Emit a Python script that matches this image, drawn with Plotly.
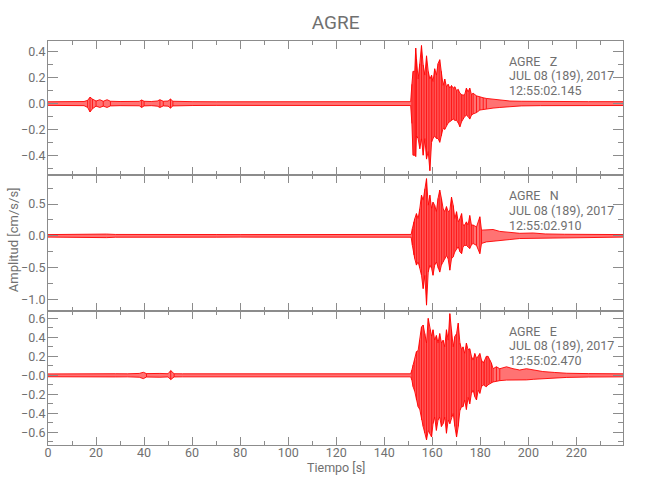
import plotly.graph_objects as go

# ---------------- data ----------------
# Time samples [s] and upper / lower envelope of each component [cm/s/s]
T_Z = [0, 5, 10, 15, 16.5, 17.5, 18.5, 20, 21.6, 23, 24.6, 26, 30, 35, 38, 39, 40, 43, 45.5, 46.6,
       48, 50, 51, 52, 55, 60, 70, 80, 90, 100, 110, 120, 130, 140, 145, 151.0,
       151.5, 152.0, 152.7, 153.1, 153.4, 154.1, 154.8, 155.5, 156.2, 156.9,
       157.6, 158.3, 159.0, 159.7, 160.3, 161.0, 161.7, 162.4, 163.1, 163.8,
       164.5, 165.2, 165.9, 166.6, 167.3, 168.0, 168.7, 169.4, 170.1, 170.8,
       171.5, 172.2, 172.8, 173.5, 174.2, 174.9, 175.6, 176.3, 177.0, 178.4,
       179.8, 181.2, 182.5, 185.3, 188.1, 192.3, 197, 205, 215, 225, 239.4]
HI_Z = [.014, .015, .014, .016, .025, .05, .035, .02, .03, .018, .03, .018, .016, .015, .017, .028, .018, .016, .02, .03,
        .018, .02, .035, .018, .015, .015, .014, .014, .015, .014, .015, .014, .014, .015, .014, .015,
        0.15, 0.25, 0.25, 0.43, 0.35, 0.19, 0.31, 0.45, 0.30, 0.22,
        0.37, 0.25, 0.19, 0.22, 0.17, 0.27, 0.22, 0.31, 0.34, 0.25,
        0.14, 0.19, 0.13, 0.15, 0.12, 0.14, 0.12, 0.13, 0.10, 0.11,
        0.08, 0.07, 0.065, 0.07, 0.12, 0.09, 0.12, 0.07, 0.08, 0.06,
        0.05, 0.045, 0.04, 0.035, 0.025, 0.02, 0.018, 0.016, 0.015, 0.015, 0.015]
LO_Z = [-.014, -.015, -.014, -.016, -.03, -.065, -.04, -.02, -.03, -.02, -.03, -.018, -.016, -.015, -.017, -.03, -.018, -.016, -.02, -.03,
        -.018, -.02, -.035, -.018, -.015, -.015, -.014, -.014, -.015, -.014, -.015, -.014, -.014, -.015, -.014, -.015,
        -0.155, -0.40, -0.40, -0.41, -0.25, -0.27, -0.35, -0.27, -0.40, -0.27,
        -0.43, -0.37, -0.52, -0.30, -0.27, -0.25, -0.27, -0.27, -0.30, -0.25,
        -0.19, -0.20, -0.17, -0.15, -0.14, -0.13, -0.12, -0.13, -0.13, -0.15,
        -0.18, -0.14, -0.12, -0.10, -0.09, -0.10, -0.12, -0.09, -0.08, -0.07,
        -0.05, -0.045, -0.04, -0.035, -0.03, -0.022, -0.018, -0.016, -0.015, -0.015, -0.015]

T_N = [0, 5, 10, 15, 17.5, 20, 24.4, 28, 35, 39, 43, 50, 60, 70, 80, 90, 100, 110, 120, 130, 140, 151.2,
       151.7, 152.3, 152.7, 153.4, 154.1, 154.8, 155.5, 156.2, 156.9, 157.6,
       158.3, 159.0, 159.7, 160.3, 161.0, 161.7, 162.4, 163.1, 163.8, 164.5,
       165.2, 165.9, 166.6, 167.3, 168.0, 168.7, 169.4, 170.1, 170.8, 171.5,
       172.2, 172.8, 173.5, 174.2, 174.9, 175.6, 176.3, 177.0, 178.4, 179.8,
       180.5, 182.5, 185.3, 188.1, 192.3, 196.4, 202.0, 207, 215, 225, 239.4]
HI_N = [.02, .022, .02, .022, .03, .022, .028, .022, .02, .028, .022, .02, .02, .021, .02, .02, .022, .02, .02, .021, .02, .022,
        0.115, 0.22, 0.27, 0.35, 0.27, 0.43, 0.64, 0.56, 0.74, 0.90,
        0.48, 0.64, 0.43, 0.53, 0.48, 0.38, 0.59, 0.72, 0.59, 0.43,
        0.38, 0.46, 0.38, 0.40, 0.61, 0.48, 0.27, 0.38, 0.22, 0.27,
        0.35, 0.17, 0.17, 0.22, 0.17, 0.32, 0.17, 0.17, 0.14, 0.30,
        0.09, 0.09, 0.10, 0.07, 0.055, 0.04, 0.045, 0.03, 0.025, 0.022, 0.02]
LO_N = [-.02, -.022, -.02, -.022, -.03, -.022, -.028, -.022, -.02, -.028, -.022, -.02, -.02, -.021, -.02, -.02, -.022, -.02, -.02, -.021, -.02, -.022,
        -0.15, -0.30, -0.36, -0.46, -0.41, -0.51, -0.62, -0.83, -0.62, -1.09,
        -0.57, -0.46, -0.51, -0.62, -0.46, -0.41, -0.51, -0.57, -0.46, -0.41,
        -0.36, -0.31, -0.36, -0.54, -0.36, -0.33, -0.25, -0.20, -0.17, -0.25,
        -0.28, -0.17, -0.15, -0.15, -0.17, -0.20, -0.14, -0.12, -0.15, -0.28,
        -0.12, -0.095, -0.085, -0.07, -0.058, -0.042, -0.04, -0.03, -0.025, -0.022, -0.02]

T_E = [0, 5, 10, 15, 17.5, 20, 24.5, 28, 33, 38, 39.7, 41, 46.6, 50, 51.1, 52.5, 56, 60, 70, 80, 90, 100, 110, 120, 130, 140, 151.0,
       151.5, 152.0, 152.7, 153.4, 154.1, 154.8, 155.5, 156.2, 156.9, 157.6,
       158.3, 159.0, 159.7, 160.3, 161.0, 161.7, 162.4, 163.1, 163.8, 164.5,
       165.2, 165.9, 166.6, 167.3, 168.0, 168.7, 169.4, 170.1, 170.8, 171.5,
       172.2, 172.8, 173.5, 174.2, 174.9, 175.6, 176.3, 177.0, 177.7, 178.4,
       179.1, 179.8, 180.5, 181.2, 181.8, 182.5, 183.2, 183.9, 184.6, 185.3,
       186.7, 188.1, 190.9, 193.6, 196.4, 199.2, 202.0, 206, 211, 216, 225, 239.4]
HI_E = [.015, .016, .015, .018, .022, .02, .022, .017, .016, .02, .032, .018, .02, .017, .05, .017, .016, .016, .015, .016, .015, .016, .015, .016, .015, .016, .016,
        0.056, 0.11, 0.16, 0.25, 0.26, 0.37, 0.51, 0.53, 0.44, 0.34,
        0.60, 0.48, 0.41, 0.48, 0.37, 0.42, 0.34, 0.44, 0.34, 0.37,
        0.30, 0.48, 0.37, 0.65, 0.48, 0.30, 0.41, 0.44, 0.55, 0.34,
        0.27, 0.30, 0.23, 0.34, 0.27, 0.28, 0.20, 0.16, 0.23, 0.18,
        0.20, 0.23, 0.16, 0.13, 0.16, 0.20, 0.20, 0.16, 0.13, 0.07,
        0.09, 0.07, 0.09, 0.07, 0.056, 0.07, 0.056, 0.04, 0.03, 0.022, 0.018, 0.016]
LO_E = [-.015, -.016, -.015, -.018, -.022, -.02, -.022, -.017, -.016, -.02, -.035, -.018, -.02, -.017, -.045, -.017, -.016, -.016, -.015, -.016, -.015, -.016, -.015, -.016, -.015, -.016, -.016,
        -0.05, -0.12, -0.17, -0.26, -0.33, -0.36, -0.47, -0.54, -0.61, -0.68,
        -0.58, -0.61, -0.65, -0.51, -0.44, -0.58, -0.47, -0.44, -0.54, -0.51,
        -0.44, -0.61, -0.47, -0.51, -0.44, -0.40, -0.54, -0.65, -0.54, -0.37,
        -0.33, -0.33, -0.26, -0.36, -0.23, -0.30, -0.19, -0.155, -0.225, -0.26,
        -0.155, -0.19, -0.12, -0.10, -0.11, -0.12, -0.10, -0.085, -0.08, -0.07,
        -0.06, -0.056, -0.05, -0.05, -0.05, -0.048, -0.042, -0.035, -0.028, -0.022, -0.018, -0.016]

STATION = "AGRE"
COMPONENTS = ["Z", "N", "E"]
DATE_TEXT = "JUL 08 (189), 2017"
START_TIMES = ["12:55:02.145", "12:55:02.910", "12:55:02.470"]

X_TICKS = list(range(0, 240, 20))
Y_TICKS_Z = [-0.4, -0.2, 0.0, 0.2, 0.4]
Y_TICKS_N = [-1.0, -0.5, 0.0, 0.5]
Y_TICKS_E = [-0.6, -0.4, -0.2, 0.0, 0.2, 0.4, 0.6]
Y_LABELS_E = ["\u22120.6", "\u22120.4", "\u22120.2", "\u22120.0", "0.2", "0.4", "0.6"]

# ---------------- styling ----------------
FONT = "Roboto, Liberation Sans, sans-serif"
TXT = "#707070"
AX = "#8c8c8c"
RED = "red"

L, R, TOP, BOT = 48, 623.3, 40.7, 445.0
PW, PH = R - L, BOT - TOP

series = [(T_Z, HI_Z, LO_Z), (T_N, HI_N, LO_N), (T_E, HI_E, LO_E)]
domains = [[0.6678, 1.0], [0.3322, 0.6678], [0.0, 0.3322]]
yranges = [[-0.555, 0.485], [-1.179, 0.954], [-0.734, 0.68]]
yminor = [0.1, 0.25, 0.1]

fig = go.Figure()
for i, (t, hi, lo) in enumerate(series):
    xa = "x" if i == 0 else f"x{i+1}"
    ya = "y" if i == 0 else f"y{i+1}"
    fig.add_trace(go.Scatter(x=t, y=hi, mode="lines", line=dict(color=RED, width=0.9),
                             xaxis=xa, yaxis=ya, hoverinfo="skip", showlegend=False))
    fig.add_trace(go.Scatter(x=t, y=lo, mode="lines", line=dict(color=RED, width=0.9),
                             fill="tonexty", fillcolor="rgba(255,0,0,0.55)",
                             xaxis=xa, yaxis=ya, hoverinfo="skip", showlegend=False))
    # vertical strokes at the densely read envelope samples (oscillation look)
    vx, vy = [], []
    for k in range(1, len(t)):
        if t[k] - t[k - 1] <= 1.5:
            vx += [t[k], t[k], None]
            vy += [hi[k], lo[k], None]
    fig.add_trace(go.Scatter(x=vx, y=vy, mode="lines", line=dict(color=RED, width=0.8),
                             xaxis=xa, yaxis=ya, hoverinfo="skip", showlegend=False,
                             connectgaps=False))

common_x = dict(range=[0, 239.4], tickmode="array", tickvals=X_TICKS, ticks="inside",
                ticklen=8, tickcolor=AX, tickwidth=1, showline=True, linecolor=AX, linewidth=1,
                mirror="allticks", showgrid=False, zeroline=False, automargin=False,
                ticklabelstandoff=-4,
                minor=dict(ticks="inside", ticklen=4, dtick=10, tickcolor=AX, showgrid=False),
                tickfont=dict(family=FONT, size=12.5, color=TXT))
for i in range(3):
    key = "xaxis" if i == 0 else f"xaxis{i+1}"
    ya = "y" if i == 0 else f"y{i+1}"
    d = dict(common_x, anchor=ya, showticklabels=(i == 2))
    if i > 0:
        d["matches"] = "x"
    fig.layout[key] = d

ytv = [Y_TICKS_Z, Y_TICKS_N, Y_TICKS_E]
for i in range(3):
    key = "yaxis" if i == 0 else f"yaxis{i+1}"
    xa = "x" if i == 0 else f"x{i+1}"
    d = dict(domain=domains[i], range=yranges[i], anchor=xa, tickmode="array", tickvals=ytv[i],
             ticks="inside", ticklen=10, tickcolor=AX, showline=True, linecolor=AX, linewidth=1,
             mirror="allticks", showgrid=False, zeroline=False, automargin=False,
             ticklabelstandoff=-1,
             minor=dict(ticks="inside", ticklen=5, dtick=yminor[i], tickcolor=AX, showgrid=False),
             tickfont=dict(family=FONT, size=12.5, color=TXT), tickformat=".1f")
    if i == 2:
        d["ticktext"] = Y_LABELS_E
    fig.layout[key] = d

# component annotations
ann_y = [[61, 75.5, 90], [195, 210, 225], [331, 345.5, 360]]
for i in range(3):
    lines = [STATION + "\u00a0\u00a0\u00a0" + COMPONENTS[i], DATE_TEXT, START_TIMES[i]]
    for j, txt in enumerate(lines):
        fig.add_annotation(x=(507.0 - L) / PW, y=(BOT - ann_y[i][j]) / PH,
                           xref="paper", yref="paper", text=txt, showarrow=False,
                           xanchor="left", yanchor="middle",
                           font=dict(family=FONT, size=12.5, color=TXT))

# axis titles
fig.add_annotation(x=(13 - L) / PW, y=(BOT - 240) / PH, xref="paper", yref="paper",
                   text="Amplitud [cm/s/s]", textangle=-90, showarrow=False,
                   xanchor="center", yanchor="middle",
                   font=dict(family=FONT, size=13, color=TXT))
fig.add_annotation(x=(336 - L) / PW, y=(BOT - 467.5) / PH, xref="paper", yref="paper",
                   text="Tiempo [s]", showarrow=False, xanchor="center", yanchor="middle",
                   font=dict(family=FONT, size=12.5, color=TXT))

fig.update_layout(
    width=650, height=500,
    margin=dict(l=L, r=650 - R, t=TOP, b=500 - BOT),
    paper_bgcolor="white", plot_bgcolor="white",
    title=dict(text=STATION, x=(335.6) / 650, xanchor="center", y=1 - 22.3 / 500, yanchor="middle",
               font=dict(family=FONT, size=19, color=TXT)),
    showlegend=False,
)

fig.write_html("out.html", config={"displayModeBar": False},
               post_script="document.body.style.margin='0';")
